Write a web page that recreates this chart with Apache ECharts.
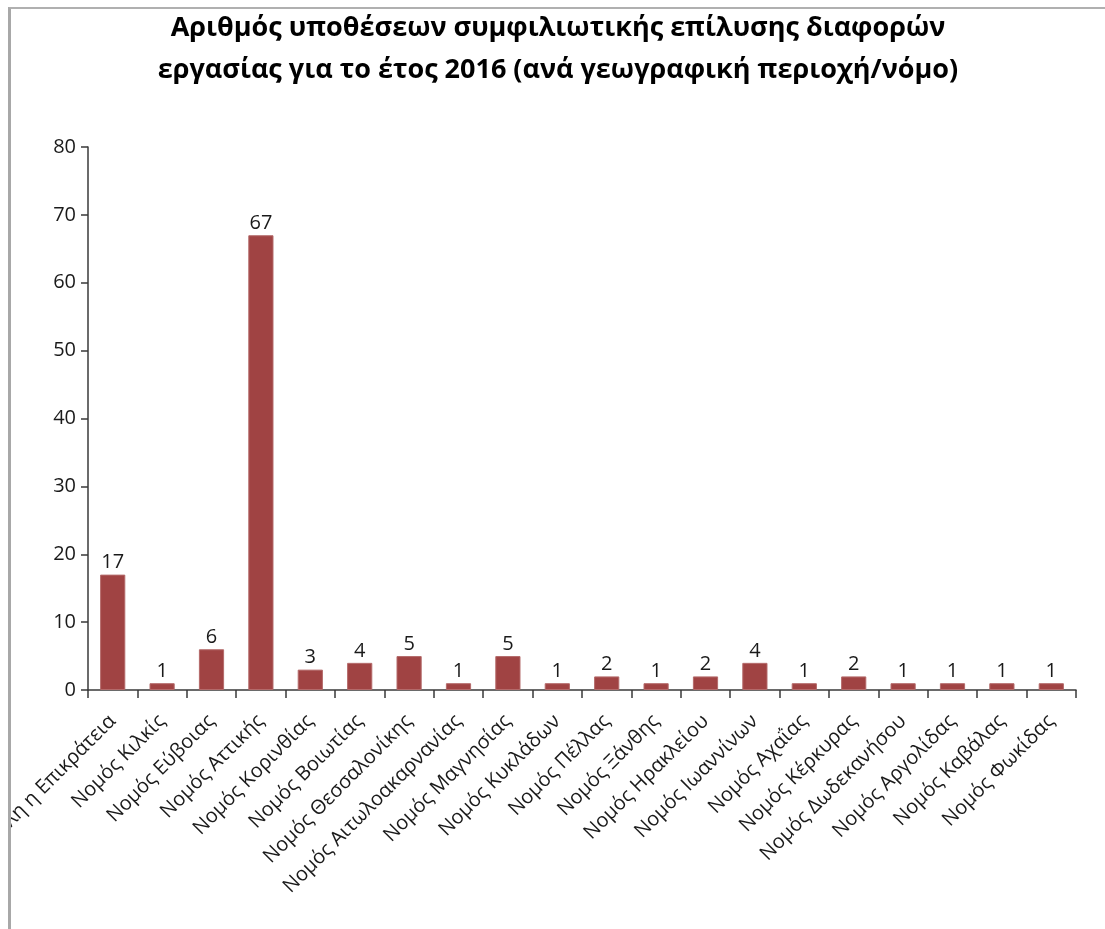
<!DOCTYPE html>
<html>
<head>
<meta charset="utf-8">
<script src="https://cdn.jsdelivr.net/npm/echarts@6/dist/echarts.min.js"></script>
<style>
  html, body { margin: 0; padding: 0; background: #ffffff; }
  #frame {
    position: absolute; left: 8px; top: 7px; width: 1097px; height: 922px;
    border-left: 3px solid #a8a8a8; border-top: 2px solid #b0b0b0;
    box-sizing: border-box;
  }
  #chart { position: absolute; left: 11px; top: 9px; width: 1094px; height: 920px; }
</style>
</head>
<body>
<div id="frame"></div>
<div id="chart"></div>
<script>
// Conciliation cases for labour disputes in 2016, by region / prefecture
const titleText = 'Αριθμός υποθέσεων συμφιλιωτικής επίλυσης διαφορών\nεργασίας για το έτος 2016 (ανά γεωγραφική περιοχή/νόμο)';

const regions = [
  'Όλη η Επικράτεια',
  'Νομός Κιλκίς',
  'Νομός Εύβοιας',
  'Νομός Αττικής',
  'Νομός Κορινθίας',
  'Νομός Βοιωτίας',
  'Νομός Θεσσαλονίκης',
  'Νομός Αιτωλοακαρνανίας',
  'Νομός Μαγνησίας',
  'Νομός Κυκλάδων',
  'Νομός Πέλλας',
  'Νομός Ξάνθης',
  'Νομός Ηρακλείου',
  'Νομός Ιωαννίνων',
  'Νομός Αχαΐας',
  'Νομός Κέρκυρας',
  'Νομός Δωδεκανήσου',
  'Νομός Αργολίδας',
  'Νομός Καβάλας',
  'Νομός Φωκίδας'
];

const cases = [17, 1, 6, 67, 3, 4, 5, 1, 5, 1, 2, 1, 2, 4, 1, 2, 1, 1, 1, 1];

const yMin = 0;
const yMax = 80;
const yStep = 10;

const chart = echarts.init(document.getElementById('chart'), null, { renderer: 'canvas' });

const labelFont = 'Open Sans';

chart.setOption({
  animation: false,
  backgroundColor: 'transparent',
  title: {
    text: titleText,
    left: 'center',
    top: -2,
    padding: [0, 0, 0, 11],
    textStyle: {
      fontFamily: 'Open Sans',
      fontWeight: 'bold',
      fontSize: 27,
      lineHeight: 42,
      color: '#000000'
    }
  },
  grid: { left: 77, right: 29, top: 138, bottom: 239, containLabel: false, outerBoundsMode: 'none' },
  xAxis: {
    type: 'category',
    data: regions,
    axisLine: { lineStyle: { color: '#3a3a3a', width: 1.5 } },
    axisTick: { show: true, alignWithLabel: false, length: 8, lineStyle: { color: '#3a3a3a', width: 1.5 } },
    axisLabel: {
      interval: 0,
      rotate: 45,
      margin: 28,
      fontFamily: labelFont,
      fontSize: 20,
      color: '#1a1a1a'
    }
  },
  yAxis: {
    type: 'value',
    min: yMin,
    max: yMax,
    interval: yStep,
    splitLine: { show: false },
    axisLine: { show: true, lineStyle: { color: '#3a3a3a', width: 1.5 } },
    axisTick: { show: true, length: 7, lineStyle: { color: '#3a3a3a', width: 1.5 } },
    axisLabel: {
      margin: 12,
      fontFamily: labelFont,
      fontSize: 20,
      color: '#1a1a1a'
    }
  },
  series: [{
    type: 'bar',
    data: cases,
    barWidth: '51%',
    itemStyle: { color: '#a04343', borderColor: '#b46a6a', borderWidth: 1 },
    label: {
      show: true,
      position: 'top',
      distance: 2,
      fontFamily: labelFont,
      fontSize: 20,
      color: '#1a1a1a'
    }
  }]
});
</script>
</body>
</html>
